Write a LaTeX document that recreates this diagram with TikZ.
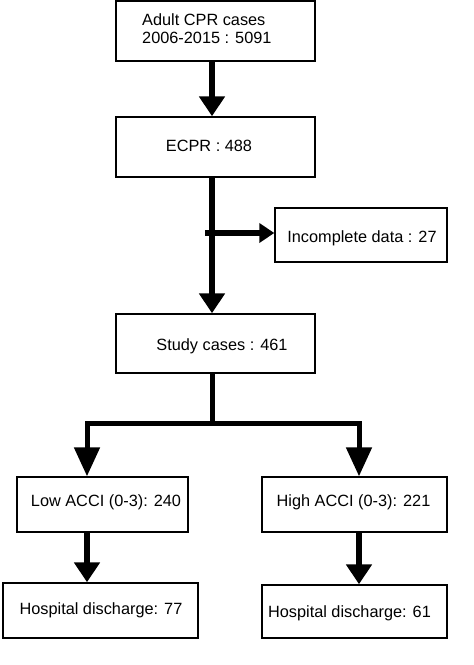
\documentclass[tikz,border=0pt]{standalone}
\usepackage{fontspec}
\setmainfont{Liberation Sans}
\usetikzlibrary{arrows.meta}
\begin{document}
\begin{tikzpicture}[x=1pt,y=-1pt,
  box/.style={draw,line width=1.4pt,inner sep=0pt,minimum width=#1},
  lbl/.style={inner sep=0pt,font=\fontsize{16.3}{18}\selectfont,align=left},
  flow/.style={line width=6pt,-{Triangle[width=25pt,length=20pt]}},
  side/.style={line width=6pt,-{Triangle[width=19pt,length=15pt]}}]
\useasboundingbox (0,0) rectangle (474,665);
% boxes
\node[box=199pt,minimum height=60pt] (b1) at (215.5,31) {};
\node[box=199pt,minimum height=60pt] (b2) at (215.5,147) {};
\node[box=172pt,minimum height=54pt] (b4) at (361,235) {};
\node[box=199pt,minimum height=59pt] (b3) at (215.5,343.5) {};
\node[box=171pt,minimum height=55pt] (lo) at (102.5,504.5) {};
\node[box=185pt,minimum height=55pt] (hi) at (354.5,504.5) {};
\node[box=195pt,minimum height=55pt] (hl) at (100.5,610.5) {};
\node[box=185pt,minimum height=53pt] (hr) at (354.5,611.5) {};
% texts
\node[lbl,anchor=west] (t1) at (142,29) {Adult CPR cases\\2006-2015 : 5091};
\node[lbl] (t2) at (209,146) {ECPR : 488};
\node[lbl] (t4) at (362,238) {Incomplete data : 27};
\node[lbl] (t3) at (222,346) {Study cases : 461};
\node[lbl] (tlo) at (106,502) {Low ACCI (0-3): 240};
\node[lbl] (thi) at (353.5,502) {High ACCI (0-3): 221};
\node[lbl] (thl) at (101,610) {Hospital discharge: 77};
\node[lbl] (thr) at (349.5,613) {Hospital discharge: 61};
% connector coordinates
\coordinate (sx) at (212,0);
\coordinate (sd) at (205,233);
\coordinate (br) at (212,423);
\coordinate (bl) at (87,423);
\coordinate (brr) at (359,423);
% connectors
\draw[flow] (b1.south -| sx) -- (b2.north -| sx);
\draw[flow] (b2.south -| sx) -- (b3.north -| sx);
\draw[side] (sd) -- (b4.west |- sd);
\draw[line width=5pt] (b3.south -| sx) -- ([yshift=2pt]br);
\draw[line width=5pt,line join=miter,
  {Triangle[width=25pt,length=29pt]}-{Triangle[width=25pt,length=29pt]}]
  (lo.north -| bl) -- (bl) -- (brr) -- (hi.north -| brr);
\draw[flow] (lo.south -| bl) -- (hl.north -| bl);
\draw[flow] (hi.south -| brr) -- (hr.north -| brr);
\end{tikzpicture}
\end{document}
